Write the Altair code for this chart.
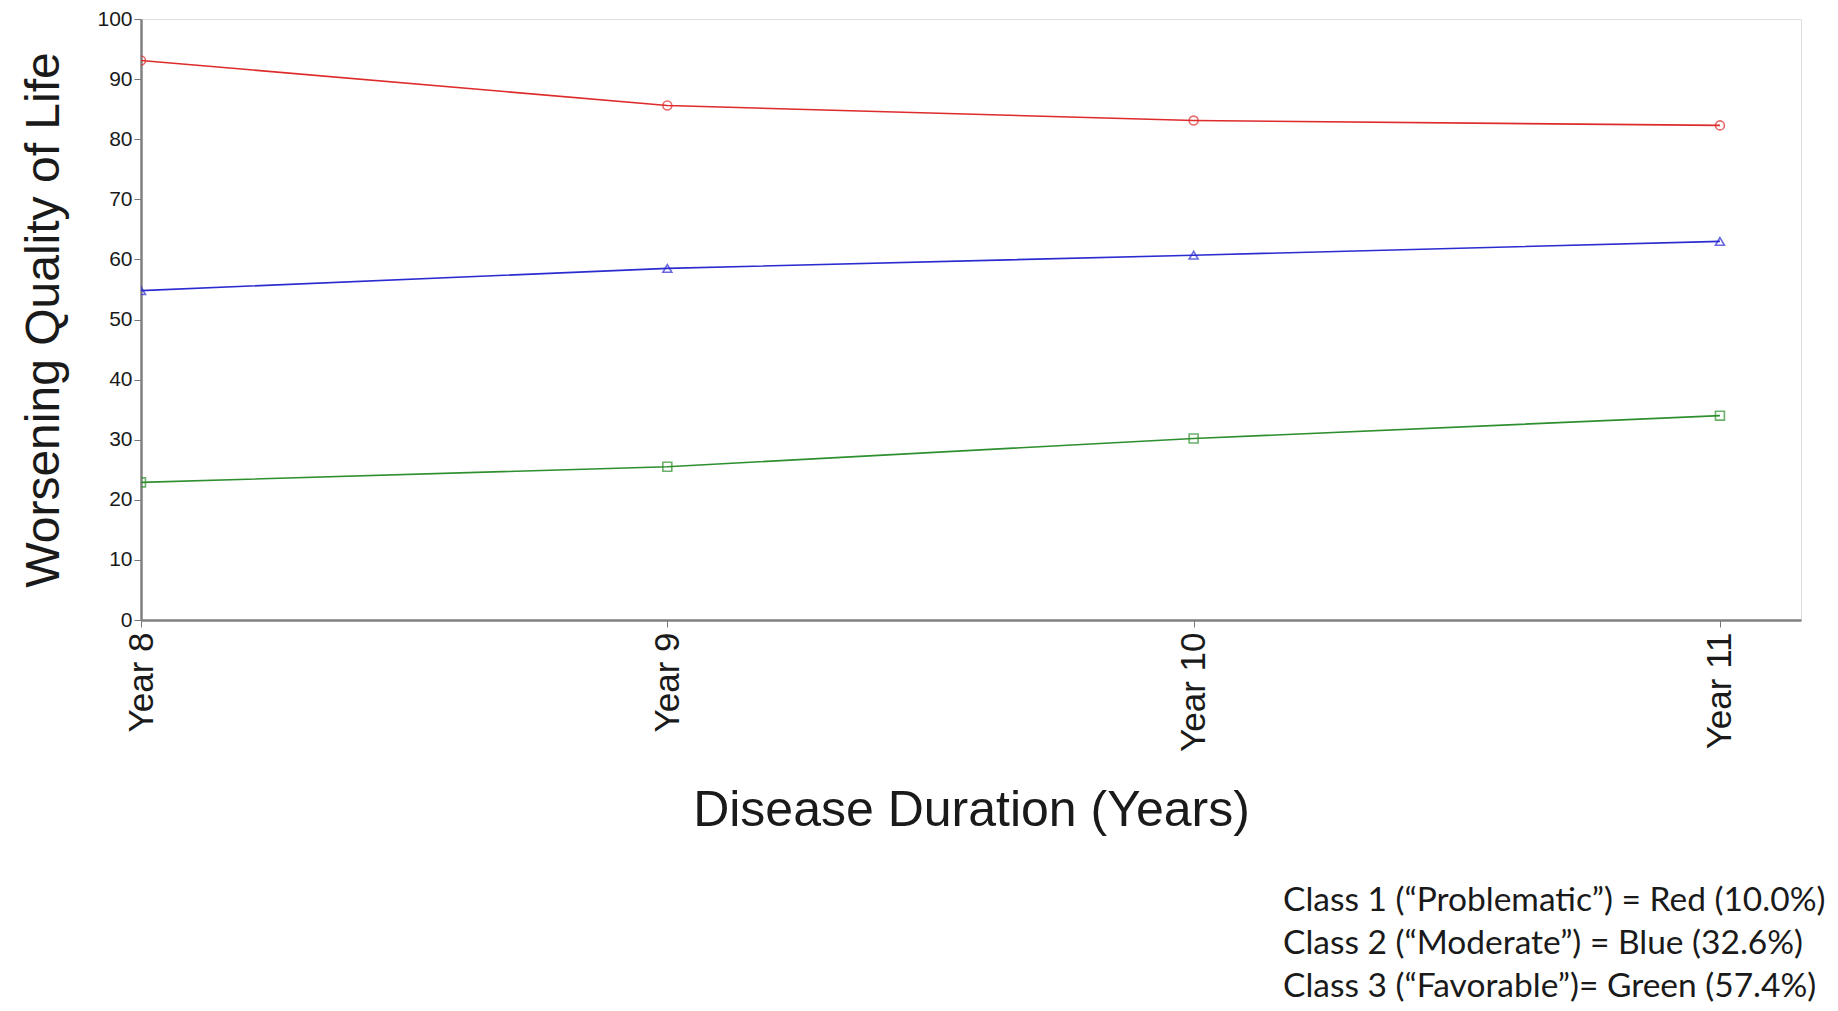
import altair as alt
import pandas as pd

years = [8, 9, 10, 11]
class_names = ["Class 1", "Class 2", "Class 3"]
red_values = [93.1, 85.6, 83.1, 82.3]
blue_values = [54.8, 58.5, 60.7, 63.0]
green_values = [22.9, 25.5, 30.2, 34.0]
y_ticks = [0, 10, 20, 30, 40, 50, 60, 70, 80, 90, 100]
legend_lines = [
    "Class 1 (\u201cProblematic\u201d) = Red (10.0%)",
    "Class 2 (\u201cModerate\u201d) = Blue (32.6%)",
    "Class 3 (\u201cFavorable\u201d)= Green (57.4%)",
]

rows = []
for name, vals in zip(class_names, [red_values, blue_values, green_values]):
    for yr, v in zip(years, vals):
        rows.append({"year": yr, "value": v, "cls": name})
df = pd.DataFrame(rows)

colors = ["#de2b2b", "#2b2bd0", "#2e8f2e"]
shapes = ["circle", "triangle-up", "square"]

x_enc = alt.X(
    "year:Q",
    scale=alt.Scale(domain=[8, 11.154], nice=False, zero=False),
    axis=alt.Axis(
        values=years,
        labelExpr="'Year ' + datum.value",
        labelAngle=270,
        labelAlign="right",
        labelBaseline="middle",
        labelFont="Liberation Sans",
        labelFontSize=35,
        labelColor="#1a1a1a",
        labelPadding=5,
        tickSize=7,
        tickColor="#777777",
        domainColor="#808080",
        domainWidth=2.5,
        grid=False,
        title="Disease Duration (Years)",
        titleFont="Liberation Sans",
        titleFontSize=50,
        titleFontWeight="normal",
        titleColor="#1a1a1a",
        titlePadding=34,
    ),
)
y_enc = alt.Y(
    "value:Q",
    scale=alt.Scale(domain=[0, 100], nice=False),
    axis=alt.Axis(
        values=y_ticks,
        labelFont="Liberation Sans",
        labelFontSize=21,
        labelColor="#1a1a1a",
        labelPadding=2,
        tickSize=7,
        tickColor="#777777",
        domainColor="#808080",
        domainWidth=2.5,
        grid=False,
        title="Worsening Quality of Life",
        titleFont="Liberation Sans",
        titleFontSize=48,
        titleFontWeight="normal",
        titleColor="#1a1a1a",
        titlePadding=28,
    ),
)
color_enc = alt.Color("cls:N", scale=alt.Scale(domain=class_names, range=colors), legend=None)
shape_enc = alt.Shape("cls:N", scale=alt.Scale(domain=class_names, range=shapes), legend=None)

lines = alt.Chart(df).mark_line(strokeWidth=1.6).encode(x=x_enc, y=y_enc, color=color_enc, detail="cls:N")
points = alt.Chart(df).mark_point(filled=False, size=80, strokeWidth=1.6, clip=True).encode(
    x="year:Q", y="value:Q", color=color_enc, shape=shape_enc
)
legend_text = alt.Chart(pd.DataFrame({"t": [0]})).mark_text(
    align="left", baseline="middle", font="Lato", fontSize=33.5, lineHeight=43, color="#1a1a1a"
).encode(x=alt.value(1142), y=alt.value(882), text=alt.value(legend_lines))

chart = (
    alt.layer(lines, points, legend_text)
    .properties(
        width=1660,
        height=601,
        autosize=alt.AutoSizeParams(type="none"),
        padding={"left": 133, "top": 11, "right": 29, "bottom": 383},
    )
    .configure_view(stroke="#808080", strokeWidth=2.5)
    .configure(background="white")
)

chart.save("out.html", embed_options={"renderer": "svg", "actions": False})
